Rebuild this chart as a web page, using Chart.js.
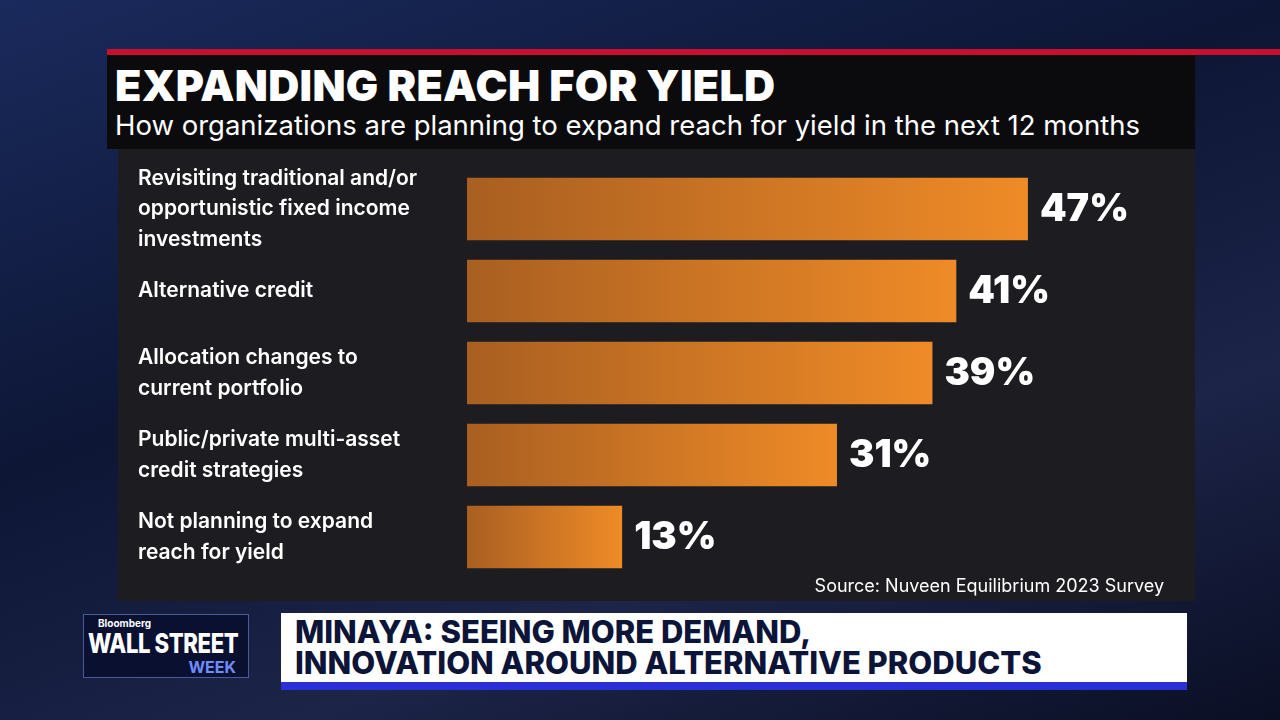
<!DOCTYPE html>
<html>
<head>
<meta charset="utf-8">
<script src="https://cdn.jsdelivr.net/npm/chart.js@4"></script>
<style>
  body { margin: 0; width: 1280px; height: 720px; overflow: hidden; font-family: Inter, "Open Sans", sans-serif;
         background: linear-gradient(160deg, #1a2a5c 0%, #0d1635 40%, #1c2448 70%, #0a0f24 100%); position: relative; }
  .redline { position: absolute; left: 107px; top: 49px; width: 1173px; height: 6px; background: #c8102e; }
  .head { position: absolute; left: 107px; top: 55px; width: 1088px; height: 94px; background: #0b0b0d; }
  .head h1 { margin: 0; position: absolute; left: 8px; top: 4px; color: #fff; font-size: 43px; font-weight: 900; letter-spacing: 0.3px; white-space: nowrap; }
  .head p { margin: 0; position: absolute; left: 8px; top: 53px; color: #fff; font-size: 27.5px; white-space: nowrap; }
  .panel { position: absolute; left: 118px; top: 149px; width: 1077px; height: 452px; background: #1d1d21; }
  .src { position: absolute; right: 31px; bottom: 5px; color: #fff; font-size: 18px; }
  #c { position: absolute; left: 0; top: 19px; }
  .logo { position: absolute; left: 83px; top: 614px; width: 164px; height: 62px; background: #0a1030; border: 1px solid #4a5a9a; color: #fff; white-space: nowrap; }
  .logo .b { position: absolute; left: 14px; top: 2px; font-size: 10px; font-weight: 700; }
  .logo .w { position: absolute; left: 4px; top: 12px; font-size: 27px; font-weight: 800; letter-spacing: -0.5px; transform: scaleX(0.82); transform-origin: left; }
  .logo .k { position: absolute; right: 12px; top: 42px; font-size: 16px; font-weight: 700; color: #6f8cff; }
  .banner { position: absolute; left: 281px; top: 613px; width: 906px; height: 69px; background: #fff; border-bottom: 8px solid #2b2fd6; }
  .banner div { position: absolute; left: 14px; top: 3px; color: #0c1438; font-size: 31px; font-weight: 800; line-height: 31px; white-space: nowrap; }
</style>
</head>
<body>
<div class="redline"></div>
<div class="head">
  <h1>EXPANDING REACH FOR YIELD</h1>
  <p>How organizations are planning to expand reach for yield in the next 12 months</p>
</div>
<div class="panel">
  <canvas id="c" width="1077" height="410"></canvas>
  <div class="src">Source: Nuveen Equilibrium 2023 Survey</div>
</div>
<div class="logo"><span class="b">Bloomberg</span><span class="w">WALL STREET</span><span class="k">WEEK</span></div>
<div class="banner"><div>MINAYA: SEEING MORE DEMAND,<br>INNOVATION AROUND ALTERNATIVE PRODUCTS</div></div>
<script>
const categories = [
  ['Revisiting traditional and/or', 'opportunistic fixed income', 'investments'],
  ['Alternative credit'],
  ['Allocation changes to', 'current portfolio'],
  ['Public/private multi-asset', 'credit strategies'],
  ['Not planning to expand', 'reach for yield']
];
const values = [47, 41, 39, 31, 13];

const valueLabels = {
  id: 'valueLabels',
  afterDatasetsDraw(chart) {
    const ctx = chart.ctx;
    ctx.save();
    ctx.fillStyle = '#fff';
    ctx.font = '900 38px Inter, sans-serif';
    ctx.textBaseline = 'middle';
    chart.getDatasetMeta(0).data.forEach((bar, i) => {
      ctx.fillText(values[i] + '%', bar.x + 12, bar.y + 1);
    });
    ctx.restore();
  }
};

new Chart(document.getElementById('c'), {
  type: 'bar',
  data: {
    labels: categories,
    datasets: [{
      data: values,
      // each bar gets its own dark-to-orange gradient
      backgroundColor: function (context) {
        const area = context.chart.chartArea;
        if (!area) return '#e0802a';
        const x0 = area.left;
        const x1 = context.chart.scales.x.getPixelForValue(values[context.dataIndex]);
        const g = context.chart.ctx.createLinearGradient(x0, 0, x1, 0);
        g.addColorStop(0, '#a95f21');
        g.addColorStop(1, '#ef8b27');
        return g;
      },
      categoryPercentage: 1,
      barPercentage: 0.76
    }]
  },
  options: {
    indexAxis: 'y',
    responsive: false,
    animation: false,
    layout: { padding: { left: 20, top: 0, bottom: 0, right: 0 } },
    plugins: { legend: { display: false }, tooltip: { enabled: false } },
    scales: {
      x: { min: 0, max: 61, display: false },
      y: {
        grid: { display: false },
        border: { display: false },
        afterFit: function (scale) {
          scale.width = 329;
          scale.paddingTop = 0;
          scale.paddingBottom = 0;
        },
        ticks: {
          autoSkip: false,
          crossAlign: 'far',
          padding: 0,
          color: '#fff',
          font: { family: 'Inter', size: 21, weight: '600', lineHeight: 1.45 }
        }
      }
    }
  },
  plugins: [valueLabels]
});
</script>
</body>
</html>
